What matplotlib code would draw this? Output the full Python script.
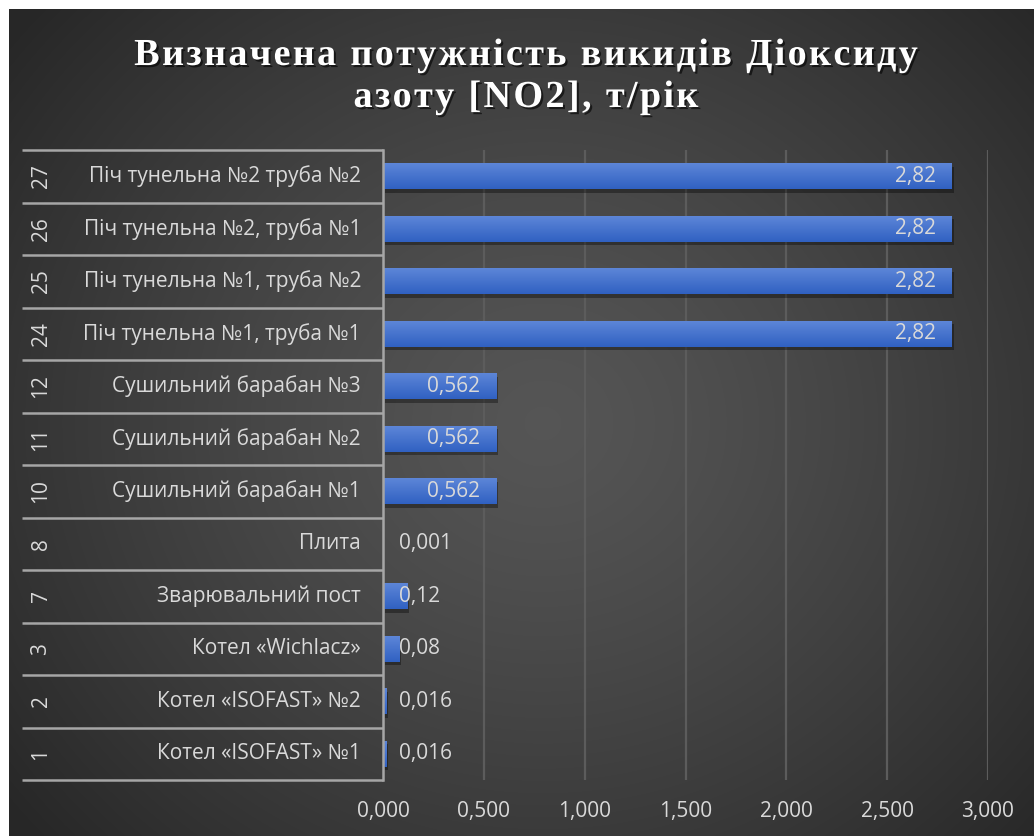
import numpy as np
import matplotlib
matplotlib.use("Agg")
import matplotlib.pyplot as plt
import matplotlib.patheffects as pe
from matplotlib.font_manager import FontProperties

# Дані: номер джерела, назва, викиди NO2 (т/рік) — знизу вгору
codes = ["1", "2", "3", "7", "8", "10", "11", "12", "24", "25", "26", "27"]
names = ["Котел «ISOFAST» №1", "Котел «ISOFAST» №2", "Котел «Wichlacz»",
         "Зварювальний пост", "Плита", "Сушильний барабан №1",
         "Сушильний барабан №2", "Сушильний барабан №3",
         "Піч тунельна №1, труба №1", "Піч тунельна №1, труба №2",
         "Піч тунельна №2, труба №1", "Піч тунельна №2 труба №2"]
values = [0.016, 0.016, 0.08, 0.12, 0.001, 0.562, 0.562, 0.562,
          2.82, 2.82, 2.82, 2.82]
labels = ["0,016", "0,016", "0,08", "0,12", "0,001", "0,562", "0,562", "0,562",
          "2,82", "2,82", "2,82", "2,82"]
xticks = [0.0, 0.5, 1.0, 1.5, 2.0, 2.5, 3.0]
xticklabels = ["0,000", "0,500", "1,000", "1,500", "2,000", "2,500", "3,000"]
title_lines = ["Визначена потужність викидів Діоксиду", "азоту [NO2], т/рік"]

W, H = 1034, 836
txt = "#d9d9d9"
line_col = "#a6a6a6"
font = "Open Sans"
fs = 15

fig = plt.figure(figsize=(W / 100, H / 100), dpi=100, facecolor="white")

# радіальний градієнт фону
bg = fig.add_axes([9 / W, 0, 1 - 9 / W, 1 - 9 / H])
bg.set_axis_off()
yy, xx = np.mgrid[0:400, 0:500]
cx, cy = 260, 200
r = np.sqrt(((xx - cx) / 330) ** 2 + ((yy - cy) / 300) ** 2)
r = np.clip(r, 0, 1)
shade = 0.335 - 0.18 * r ** 1.3
bg.imshow(np.dstack([shade] * 3), aspect="auto", extent=[0, 1, 0, 1],
          interpolation="bilinear")
bg.set_xlim(0, 1)
bg.set_ylim(0, 1)

ax = fig.add_axes([383 / W, 1 - 780 / H, (988 - 383) / W, (780 - 150) / H])
ax.set_facecolor("none")
ypos = np.arange(len(values))
bars = ax.barh(ypos, values, height=0.5, color="#4472c4", linewidth=0,
               zorder=3,
               path_effects=[pe.SimplePatchShadow(offset=(1.5, -2.5), alpha=0.35,
                                                  shadow_rgbFace="black"),
                             pe.Normal()])

# вертикальний градієнт на кожному стовпчику
grad = np.linspace(0, 1, 50).reshape(-1, 1)
top = np.array([0.37, 0.53, 0.85])
bot = np.array([0.19, 0.38, 0.76])
grad_img = (bot + (top - bot) * grad[:, :, None]) * np.ones((1, 2, 1))
for b in bars:
    x0, y0 = b.get_x(), b.get_y()
    w, h = b.get_width(), b.get_height()
    im = ax.imshow(grad_img, extent=[x0, x0 + w, y0, y0 + h], origin="lower",
                   aspect="auto", zorder=4, interpolation="bilinear")
    im.set_clip_path(b)

ax.set_xlim(0, 3.0)
ax.set_ylim(-0.5, len(values) - 0.5)
ax.set_xticks(xticks)
ax.set_xticklabels(xticklabels, fontsize=fs, color=txt, family=font)
ax.tick_params(axis="x", length=0, pad=15)
ax.set_yticks([])
ax.grid(axis="x", color="#5c5c5c", linewidth=1.6, zorder=1)
for s in ["top", "right", "bottom"]:
    ax.spines[s].set_visible(False)
ax.spines["left"].set_color(line_col)
ax.spines["left"].set_linewidth(1.8)
ax.spines["left"].set_zorder(5)

# підписи значень
for y, v, lab in zip(ypos, values, labels):
    if v > 0.5:
        ax.text(v - 0.08, y, lab, ha="right", va="center", fontsize=fs,
                color=txt, family=font, zorder=6)
    else:
        ax.text(0.078, y, lab, ha="left", va="center", fontsize=fs,
                color=txt, family=font, zorder=6)

# дворівнева вісь категорій
ytr = ax.get_yaxis_transform()
xl = (22 - 383) / 605
for k in range(len(values) + 1):
    ax.plot([xl, 0], [k - 0.5, k - 0.5], color=line_col, linewidth=1.8,
            transform=ytr, clip_on=False, solid_capstyle="butt")
for y, c, n in zip(ypos, codes, names):
    ax.text((41 - 383) / 605, y, c, rotation=90, ha="center", va="center",
            fontsize=fs, color=txt, family=font, transform=ytr)
    ax.text((361 - 383) / 605, y, n, ha="right", va="center",
            fontsize=fs, color=txt, family=font, transform=ytr)

# заголовок з розрідженими літерами
tprop = FontProperties(family="Liberation Serif", weight="bold", size=27.5)
renderer = fig.canvas.get_renderer()
gap = 2.3
sp_w = (renderer.get_text_width_height_descent("a a", tprop, False)[0]
        - renderer.get_text_width_height_descent("aa", tprop, False)[0])


def char_w(ch):
    if ch == " ":
        return sp_w
    return renderer.get_text_width_height_descent(ch, tprop, False)[0]


title_fx = [pe.SimplePatchShadow(offset=(1.5, -1.5), alpha=0.6,
                                 shadow_rgbFace="black"), pe.Normal()]
for line, base in zip(title_lines, [65, 107]):
    widths = [char_w(ch) for ch in line]
    total = sum(widths) + gap * (len(line) - 1)
    x = 526 - total / 2
    for ch, w in zip(line, widths):
        if ch != " ":
            fig.text(x / W, 1 - base / H, ch, ha="left", va="baseline",
                     fontproperties=tprop, color="white", path_effects=title_fx)
        x += w + gap

fig.savefig("out.png", dpi=100, facecolor=fig.get_facecolor())
